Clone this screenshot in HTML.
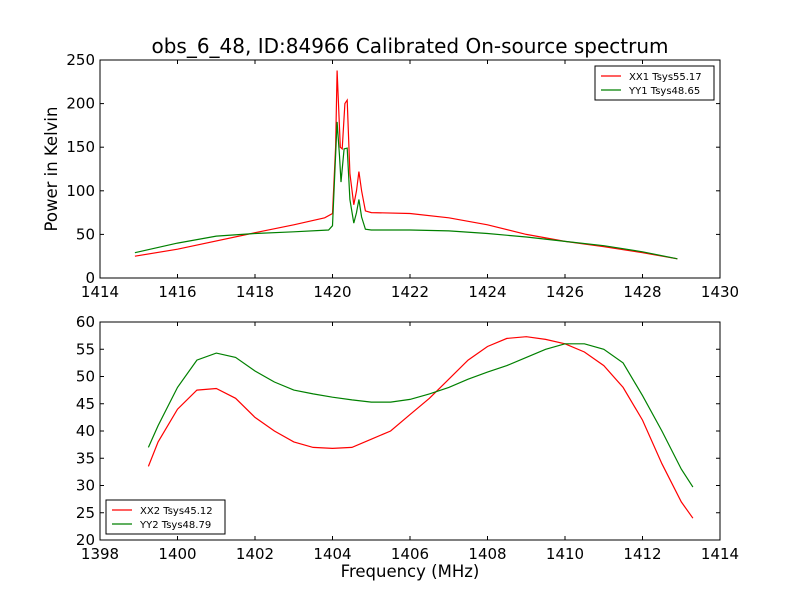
<!DOCTYPE html>
<html><head><meta charset="utf-8"><style>
body{margin:0;background:#fff;}
svg text{font-family:"DejaVu Sans","Liberation Sans",sans-serif;fill:#000;}
</style></head><body>
<svg id="c" width="800" height="600" xmlns="http://www.w3.org/2000/svg">
<rect width="800" height="600" fill="#fff"/>
<text x="410" y="53" font-size="20" text-anchor="middle">obs_6_48, ID:84966 Calibrated On-source spectrum</text>
<text x="57" y="169" font-size="16.5" text-anchor="middle" transform="rotate(-90 57 169)">Power in Kelvin</text>
<text x="410" y="577" font-size="16.5" text-anchor="middle">Frequency (MHz)</text>
<g id="top"></g>
<g id="bot"></g>
</svg>
<script>
const topXTicks=[1414,1416,1418,1420,1422,1424,1426,1428,1430];
const topYTicks=[0,50,100,150,200,250];
const topRedX=[1414.9,1416,1418,1419,1419.8,1420.0,1420.08,1420.12,1420.2,1420.25,1420.32,1420.38,1420.45,1420.55,1420.62,1420.68,1420.75,1420.85,1421,1422,1423,1424,1425,1426,1427,1428,1428.9];
const topRedY=[25,33,52,61,69,74,150,238,150,148,200,204,120,84,100,122,100,77,75,74,69,61,50,42,36,29,22];
const topGreenX=[1414.9,1416,1417,1418,1419,1419.9,1420.0,1420.06,1420.12,1420.18,1420.22,1420.3,1420.38,1420.45,1420.55,1420.62,1420.68,1420.75,1420.85,1421,1422,1423,1424,1425,1426,1427,1428,1428.9];
const topGreenY=[29,40,48,51,53,55,60,120,179,140,110,148,149,90,63,75,90,70,56,55,55,54,51,47,42,37,30,22];
const botXTicks=[1398,1400,1402,1404,1406,1408,1410,1412,1414];
const botYTicks=[20,25,30,35,40,45,50,55,60];
const botRedX=[1399.25,1399.5,1400,1400.5,1401,1401.5,1402,1402.5,1403,1403.5,1404,1404.5,1405,1405.5,1406,1406.5,1407,1407.5,1408,1408.5,1409,1409.5,1410,1410.5,1411,1411.5,1412,1412.5,1413,1413.3];
const botRedY=[33.5,38,44,47.5,47.8,46,42.5,40,38,37,36.8,37,38.5,40,43,46,49.5,53,55.5,57,57.3,56.8,56,54.5,52,48,42,34,27,24];
const botGreenX=[1399.25,1399.5,1400,1400.5,1401,1401.5,1402,1402.5,1403,1403.5,1404,1404.5,1405,1405.5,1406,1406.5,1407,1407.5,1408,1408.5,1409,1409.5,1410,1410.5,1411,1411.5,1412,1412.5,1413,1413.3];
const botGreenY=[37,41,48,53,54.3,53.5,51,49,47.5,46.8,46.2,45.7,45.3,45.3,45.8,46.8,48,49.5,50.8,52,53.5,55,56,56,55,52.5,46.5,40,33,29.7];

const NS="http://www.w3.org/2000/svg";
function mk(t,a,p){const e=document.createElementNS(NS,t);for(const k in a)e.setAttribute(k,a[k]);p.appendChild(e);return e;}
function panel(g,x0,x1,y0,y1,X0,X1,Y0,Y1,xt,yt,series,leg){
  const sx=v=>x0+(v-X0)/(X1-X0)*(x1-x0);
  const sy=v=>y1-(v-Y0)/(Y1-Y0)*(y1-y0);
  series.forEach(s=>{
    const pts=s.x.map((v,i)=>sx(v).toFixed(1)+","+sy(s.y[i]).toFixed(1)).join(" ");
    const l=mk("polyline",{points:pts,fill:"none",stroke:s.c,"stroke-width":1.2},g);
    
    
  });
  const f=mk("rect",{x:x0,y:y0,width:x1-x0,height:y1-y0,fill:"none",stroke:"#000","stroke-width":1},g);
  
  
  xt.forEach(v=>{const x=sx(v);
    mk("line",{x1:x,x2:x,y1:y1,y2:y1-4,stroke:"#000"},g);
    mk("line",{x1:x,x2:x,y1:y0,y2:y0+4,stroke:"#000"},g);
    const t=mk("text",{x:x,y:y1+19,"font-size":15,"text-anchor":"middle"},g);t.textContent=v;
    
    });
  yt.forEach(v=>{const y=sy(v);
    mk("line",{x1:x0,x2:x0+4,y1:y,y2:y,stroke:"#000"},g);
    mk("line",{x1:x1,x2:x1-4,y1:y,y2:y,stroke:"#000"},g);
    const t=mk("text",{x:x0-5,y:y+5,"font-size":15,"text-anchor":"end"},g);t.textContent=v;
    
    });
  const lg=mk("g",{},g);
  
  
  mk("rect",{x:leg.x,y:leg.y,width:119,height:34,fill:"#fff",stroke:"#000"},lg);
  series.forEach((s,i)=>{const y=leg.y+10+i*14;
    mk("line",{x1:leg.x+6,x2:leg.x+26,y1:y,y2:y,stroke:s.c,"stroke-width":1.2},lg);
    const t=mk("text",{x:leg.x+34,y:y+4,"font-size":10},lg);t.textContent=s.label;
    
    });
}
panel(document.getElementById("top"),100,720,60,278,1414,1430,0,250,topXTicks,topYTicks,
 [{x:topRedX,y:topRedY,c:"#ff0000",name:"xx1-line",label:"XX1 Tsys55.17"},{x:topGreenX,y:topGreenY,c:"#008000",name:"yy1-line",label:"YY1 Tsys48.65"}],{x:595,y:66});
panel(document.getElementById("bot"),100,720,322,540,1398,1414,20,60,botXTicks,botYTicks,
 [{x:botRedX,y:botRedY,c:"#ff0000",name:"xx2-line",label:"XX2 Tsys45.12"},{x:botGreenX,y:botGreenY,c:"#008000",name:"yy2-line",label:"YY2 Tsys48.79"}],{x:106,y:500});
</script>
</body></html>
